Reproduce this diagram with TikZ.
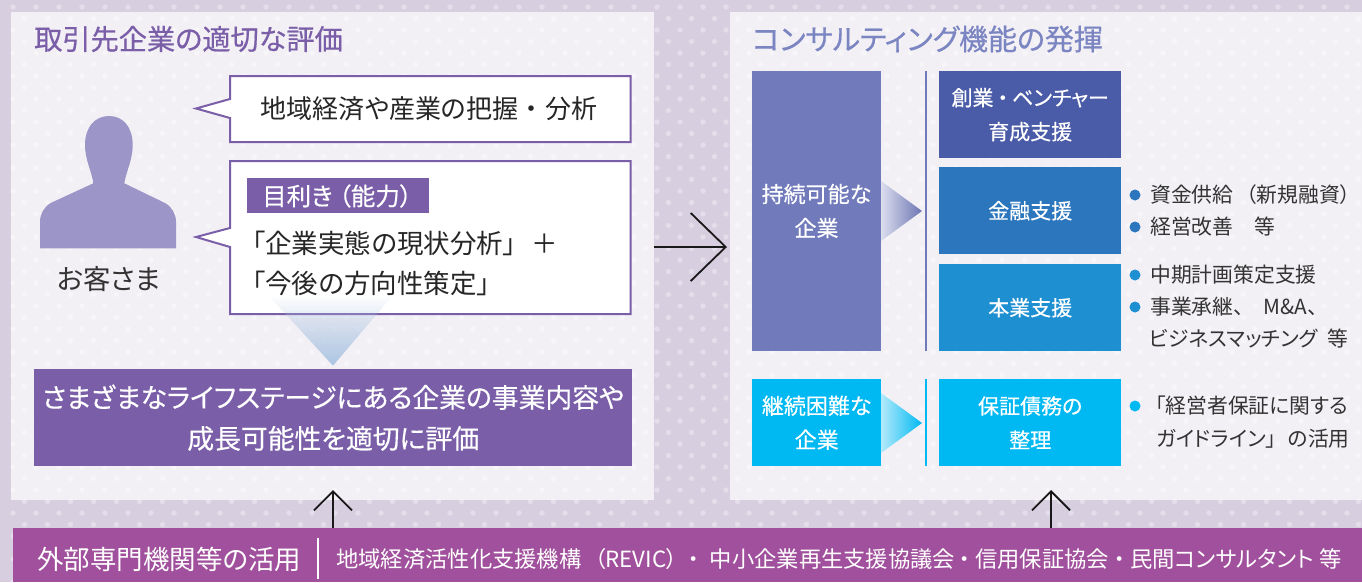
\documentclass[tikz,border=0pt]{standalone}
\usepackage{fontspec}
\usetikzlibrary{arrows.meta,fadings}
\setmainfont[RawFeature=+palt]{Noto Sans CJK JP}
\newfontfamily\mdf[FakeBold=0.35,RawFeature=+palt]{Noto Sans CJK JP}
\newfontfamily\hvf[FakeBold=0.6,RawFeature=+palt]{Noto Sans CJK JP}
\definecolor{bgc}{HTML}{D7CEE0}
\definecolor{pur}{HTML}{7A5EA8}
\definecolor{band}{HTML}{A0509C}
\definecolor{tit}{HTML}{7B85C2}
\definecolor{sus}{HTML}{717BBB}
\definecolor{dk}{HTML}{4A5BA8}
\definecolor{mid}{HTML}{2C76BD}
\definecolor{lt}{HTML}{1E90D2}
\definecolor{cy}{HTML}{00B9F2}
\definecolor{ink}{HTML}{333333}
\definecolor{fig}{HTML}{9C95C8}
\definecolor{tri}{HTML}{ACC5E2}
\tikzfading[name=trifade,top color=transparent!100,middle color=transparent!78,bottom color=transparent!0]
\newcommand{\hs}[1]{\hspace*{#1pt}}
\tikzset{
  panel/.style={fill=white,fill opacity=.7,draw=none,inner sep=0pt,minimum width=#1,minimum height=488pt},
  solid box/.style={fill=#1,draw=none,inner sep=0pt,text=white,align=center},
  lab/.style={inner sep=0pt,anchor=west,text=ink},
  callout/.style={draw=pur,line width=2pt,fill=white,miter limit=10},
  barb/.style={draw=black!90,line width=1.8pt},
  bigarrow/.style={barb,-{Straight Barb[length=35pt,width=68pt,line width=1.8pt]}},
  uparrow/.style={barb,-{Straight Barb[length=19pt,width=38pt,line width=1.8pt]}},
  fs/.style={font=\fontsize{#1}{#1}\selectfont},
  wb/.style={font=\mdf\fontsize{#1}{34}\selectfont},
  bul/.style={circle,inner sep=0pt,minimum size=11pt,fill=#1}
}
\begin{document}
\begin{tikzpicture}[x=1pt,y=-1pt]
\useasboundingbox (0,0) rectangle (1362,582);
\fill[bgc] (0,0) rectangle (1362,582);
\fill[white,fill opacity=.33]
  \foreach \i in {0,...,59}{\foreach \j in {0,...,25}{
    ({\i*23+13},{\j*23+7}) circle (2.7) ({\i*23+24.5},{\j*23+18.5}) circle (2.7)}};
% panels
\node[panel=642.5pt,anchor=north west] (pl) at (11,12) {};
\node[panel=632pt,anchor=north west] (pr) at (730,12) {};
\node[lab,anchor=west,text=pur,font=\hvf\fontsize{28.2}{28}\selectfont] (t1) at (34,39) {取引先企業の適切な評価};
\node[lab,anchor=west,text=tit,font=\hvf\fontsize{29}{28}\selectfont] (t2) at (752,39) {コンサルティング機能の発揮};
% figure
\fill[fig] (93.3,183.3) .. controls (92,172) and (85,160) .. (85,145)
  .. controls (85,127) and (95,116) .. (109,116)
  .. controls (123,116) and (132.7,127) .. (132.7,145)
  .. controls (132.7,160) and (126,172) .. (124.3,183.3)
  -- (165,203) .. controls (172,207) and (176,214) .. (176,222) -- (176,248.3) -- (40,248.3) -- (40,222)
  .. controls (40,214) and (44,207) .. (50.7,203) -- cycle;
\node[lab,anchor=center,fs=27.5] (cust) at (108.5,279) {お客さま};
% callouts
\draw[callout] (230,76) -- (630.5,76) -- (630.5,142) -- (230,142) -- (230,118) -- (196,108.5) -- (230,99) -- cycle;
\draw[callout] (230,161) -- (630.5,161) -- (630.5,314) -- (230,314) -- (230,247) -- (196,237) -- (230,228) -- cycle;
\node[lab,anchor=center,text=black!85,fs=26] (c1) at (429,109) {地域経済や産業の把握\hs{7}・\hs{7}分析};
\node[solid box=pur,anchor=north west,minimum width=182pt,minimum height=35pt] (eye) at (247,178) {};
\node[inner sep=0pt,anchor=west,text=white,font=\mdf\fontsize{24.5}{23}\selectfont] (eyet) at (262,196) {目利き\hs{6}（能力）};
\node[lab,text=black!85,fs=26.5] (c2) at (252,243) {「企業実態の現状分析」\hs{15}＋};
\node[lab,text=black!85,fs=26.5] (c3) at (252,283) {「今後の方向性策定」};
% down triangle
\fill[tri,path fading=trifade] (268,295) -- (393,295) -- (333,365.7) -- cycle;
% evaluation box
\node[solid box=pur,anchor=north west,minimum width=598pt,minimum height=97pt,wb=26.8] (ev) at (34,369) {さまざまなライフステージにある企業の事業内容や\\[7pt]成長可能性を適切に評価};
% right column
\node[solid box=sus,anchor=north west,minimum width=129pt,minimum height=280pt,wb=22] (sc) at (752,71) {};
\node[inner sep=0pt,text=white,align=center,wb=22] (sct) at (816.5,211) {持続可能な\\企業};
\node[solid box=cy,anchor=north west,minimum width=129pt,minimum height=87pt,wb=22] (hc) at (752,379) {継続困難な\\企業};
\shade[left color=sus!25,right color=sus!95!black] (881,181) -- (922,211) -- (881,241) -- cycle;
\shade[left color=cy!30,right color=cy] (881,393) -- (922,423) -- (881,453) -- cycle;
\coordinate (v1a) at (926,71);
\coordinate (v1b) at (926,351);
\coordinate (v2a) at (926,379);
\coordinate (v2b) at (926,466);
\draw[sus,line width=2.4pt] (v1a) -- (v1b);
\draw[cy,line width=2.4pt] (v2a) -- (v2b);
\node[solid box=dk,anchor=north west,minimum width=182pt,minimum height=87pt,wb=21] (b1) at (939,71) {創業\hs{4}・\hs{4}ベンチャー\\育成支援};
\node[solid box=mid,anchor=north west,minimum width=182pt,minimum height=87pt,wb=21] (b2) at (939,167) {金融支援};
\node[solid box=lt,anchor=north west,minimum width=182pt,minimum height=87pt,wb=21] (b3) at (939,264) {本業支援};
\node[solid box=cy,anchor=north west,minimum width=182pt,minimum height=87pt,wb=21] (b4) at (939,379) {保証債務の\\整理};
% bullets
\node[bul=mid] (d1) at (1135,195) {};
\node[bul=mid] (d2) at (1135,227) {};
\node[bul=lt] (d3) at (1135,275) {};
\node[bul=lt] (d4) at (1135,307) {};
\node[bul=cy] (d5) at (1135,406) {};
\node[lab,fs=20.8] (l1) at (1150,195) {資金供給\hs{13}（新規融資）};
\node[lab,fs=20.8] (l2) at (1150,227) {経営改善　等};
\node[lab,fs=20.8] (l3) at (1150,275) {中期計画策定支援};
\node[lab,fs=20.8] (l4) at (1150,307) {事業承継、\hs{20}M\&A、};
\node[lab,fs=20.8] (l5) at (1149,339) {ビジネスマッチング\hs{5} 等};
\node[lab,fs=20.8] (l6) at (1155,406) {「経営者保証に関する};
\node[lab,fs=20.8] (l7) at (1156,439) {ガイドライン」\hs{12}の活用};
% band
\node[solid box=band,anchor=north west,minimum width=1349pt,minimum height=54pt] (bd) at (13,528) {};
\node[inner sep=0pt,anchor=west,text=white,fs=26.5] (b5) at (37,559) {外部専門機関等の活用};
\coordinate (sepa) at (318,538);
\coordinate (sepb) at (318,579);
\draw[white,line width=1.5pt] (sepa) -- (sepb);
\node[inner sep=0pt,anchor=west,text=white,fs=22.3] (b6) at (336,559) {地域経済活性化支援機構\hs{13}（REVIC）\hs{10}・\hs{11}中小企業再生支援協議会\hs{4}・\hs{5}信用保証協会\hs{5}・\hs{5}民間コンサルタント 等};
% arrows
\coordinate (ra) at (654,247);
\coordinate (rb) at (727,247);
\coordinate (u1) at (333,490);
\coordinate (u2) at (1051,490);
\draw[bigarrow] (ra) -- (rb);
\draw[uparrow] (bd.north -| u1) -- (u1);
\draw[uparrow] (bd.north -| u2) -- (u2);
\end{tikzpicture}
\end{document}
